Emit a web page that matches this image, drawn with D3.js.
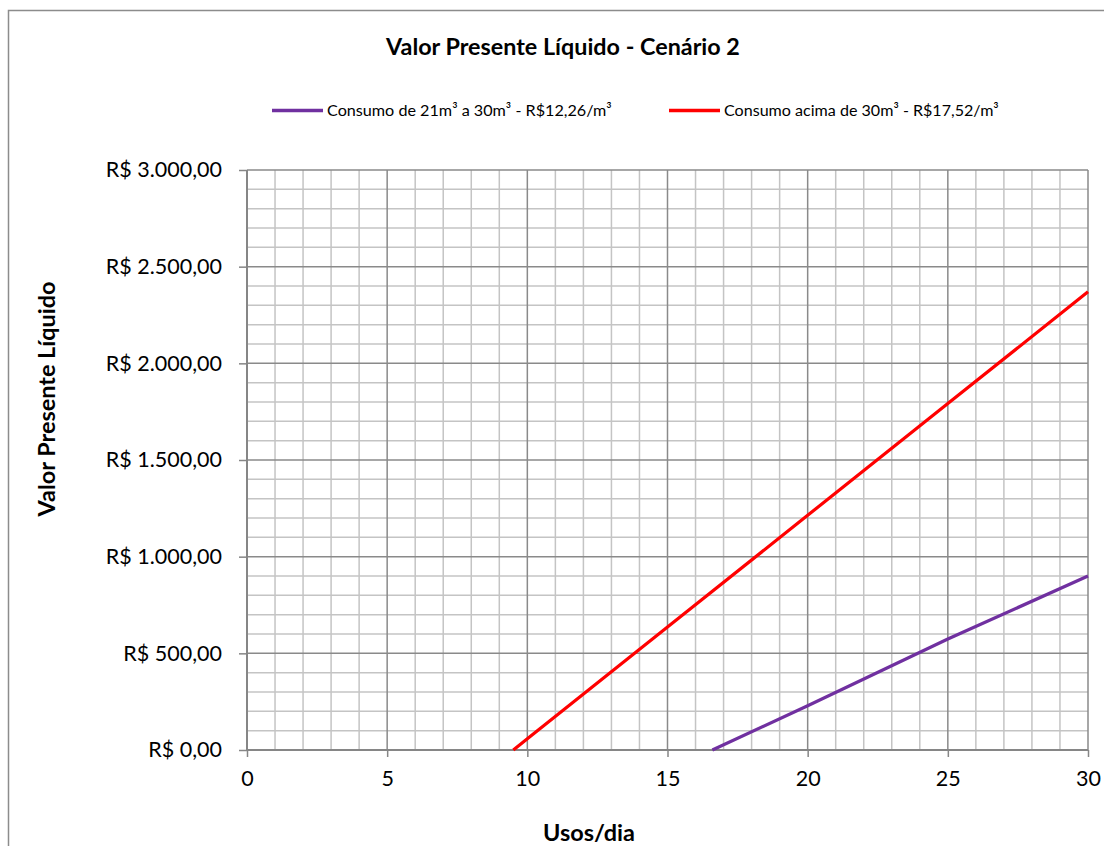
<!DOCTYPE html>
<html><head><meta charset="utf-8">
<script src="https://cdn.jsdelivr.net/npm/d3@7"></script>
<style>
html,body{margin:0;padding:0;background:#fff;}
svg{display:block;font-family:Lato,"Open Sans",sans-serif;}
</style></head>
<body>
<svg id="chart" width="1104" height="846"></svg>
<script>
// ---- data ----
const chartTitle = "Valor Presente Líquido - Cenário 2";
const xTitle = "Usos/dia";
const yTitle = "Valor Presente Líquido";
const seriesNames = ["Consumo de 21m³ a 30m³ -  R$12,26/m³", "Consumo acima de 30m³ - R$17,52/m³"];
const seriesColors = ["#7030a0", "#ff0000"];
const purpleX = [16.6, 20, 25, 30];
const purpleY = [0, 229, 574, 900];
const redX = [9.5, 10, 15, 20, 25, 30];
const redY = [0, 58, 636, 1214, 1792, 2370];
const xTicks = [0, 5, 10, 15, 20, 25, 30];
const yTicks = [0, 500, 1000, 1500, 2000, 2500, 3000];
const yTickLabels = ["R$ 0,00", "R$ 500,00", "R$ 1.000,00", "R$ 1.500,00", "R$ 2.000,00", "R$ 2.500,00", "R$ 3.000,00"];
const xMinorStep = 1, yMinorStep = 100;

// ---- layout ----
const svg = d3.select("#chart");
const L = 247, R = 1088, T = 170, B = 750;
const x = d3.scaleLinear().domain([0, 30]).range([L, R]);
const y = d3.scaleLinear().domain([0, 3000]).range([B, T]);

// scale a text's font size so it spans the given width
function fit(sel, width) {
  const fs = +sel.attr("font-size");
  const w = sel.node().getComputedTextLength();
  if (w > 0) sel.attr("font-size", fs * width / w);
  return sel;
}

// outer border
svg.append("rect").attr("x", 8.5).attr("y", 10.5).attr("width", 1200).attr("height", 1000)
  .attr("fill", "#fff").attr("stroke", "#8c8c8c").attr("stroke-width", 1.5);

// minor grid
const xMinor = d3.range(0, 30 + 1e-9, xMinorStep);
const yMinor = d3.range(0, 3000 + 1e-9, yMinorStep);
const g = svg.append("g");
g.selectAll(".vx").data(xMinor.filter(v => v % 5 !== 0)).join("line")
  .attr("x1", d => x(d)).attr("x2", d => x(d)).attr("y1", T).attr("y2", B)
  .attr("stroke", "#c4c4c4").attr("stroke-width", 1.5);
g.selectAll(".hy").data(yMinor.filter(v => v % 500 !== 0)).join("line")
  .attr("y1", d => y(d)).attr("y2", d => y(d)).attr("x1", L).attr("x2", R)
  .attr("stroke", "#c4c4c4").attr("stroke-width", 1.5);
// major grid
g.selectAll(".vX").data(xTicks.filter(v => v !== 0)).join("line")
  .attr("x1", d => x(d)).attr("x2", d => x(d)).attr("y1", T).attr("y2", B)
  .attr("stroke", "#8a8a8a").attr("stroke-width", 1.5);
g.selectAll(".hY").data(yTicks.filter(v => v !== 0)).join("line")
  .attr("y1", d => y(d)).attr("y2", d => y(d)).attr("x1", L).attr("x2", R)
  .attr("stroke", "#8a8a8a").attr("stroke-width", 1.5);

// axes
const xAxis = d3.axisBottom(x).tickValues(xTicks).tickSize(7).tickPadding(14).tickFormat(d3.format("d"));
const yAxis = d3.axisLeft(y).tickValues(yTicks).tickSize(8).tickPadding(17).tickFormat((d, i) => yTickLabels[i]);
const gx = svg.append("g").attr("transform", `translate(0,${B})`).call(xAxis);
const gy = svg.append("g").attr("transform", `translate(${L},0)`).call(yAxis);
[gx, gy].forEach(a => {
  a.select(".domain").attr("stroke", "#868686").attr("stroke-width", 2);
  a.selectAll(".tick line").attr("stroke", "#868686").attr("stroke-width", 1.5);
  a.selectAll("text").attr("font-family", "Lato, sans-serif").attr("font-size", 21.5).attr("fill", "#000");
});
gy.select(".domain").attr("d", `M0,${B}V${T}`);
gx.select(".domain").attr("d", `M${L},0H${R}`);
gx.selectAll("text").attr("dy", "0.71em");

// lines
const line = d3.line().x(d => x(d[0])).y(d => y(d[1]));
const series = [d3.zip(purpleX, purpleY), d3.zip(redX, redY)];
svg.selectAll(".series").data(series).join("path")
  .attr("d", line).attr("fill", "none")
  .attr("stroke", (d, i) => seriesColors[i]).attr("stroke-width", 3.2);

// title
fit(svg.append("text").attr("x", 563).attr("y", 55).attr("text-anchor", "middle")
  .attr("font-weight", "bold").attr("font-size", 20).text(chartTitle), 354);

// legend
const legX = [272, 669];
const legW = [285, 275];
seriesNames.forEach((name, i) => {
  svg.append("line").attr("x1", legX[i]).attr("x2", legX[i] + 51).attr("y1", 110.5).attr("y2", 110.5)
    .attr("stroke", seriesColors[i]).attr("stroke-width", 3.5);
  fit(svg.append("text").attr("x", legX[i] + 55).attr("y", 115.5).attr("font-size", 14).text(name), legW[i]);
});

// axis titles
fit(svg.append("text").attr("x", 589).attr("y", 841).attr("text-anchor", "middle")
  .attr("font-weight", "bold").attr("font-size", 20).text(xTitle), 92);
fit(svg.append("text").attr("transform", "translate(55,399) rotate(-90)").attr("text-anchor", "middle")
  .attr("font-weight", "bold").attr("font-size", 20).text(yTitle), 235);
</script>
</body></html>
